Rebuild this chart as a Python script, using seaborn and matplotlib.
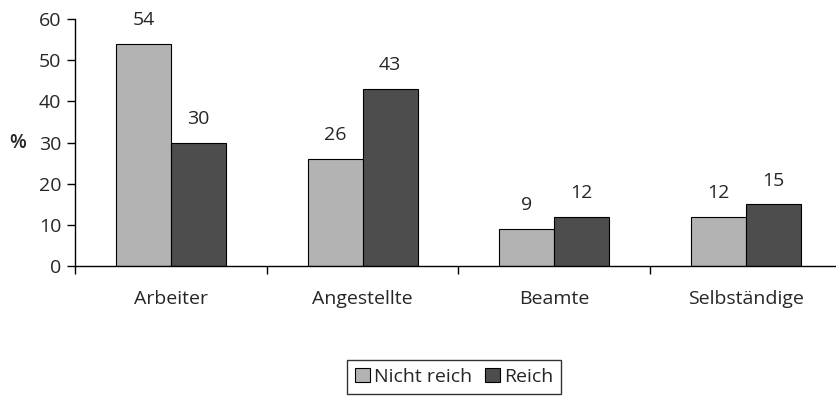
import matplotlib
matplotlib.use("Agg")
import matplotlib.pyplot as plt
import seaborn as sns
import pandas as pd
from matplotlib.ticker import FixedLocator
from matplotlib.patches import Patch

categories = ["Arbeiter", "Angestellte", "Beamte", "Selbständige"]
nicht_reich = [54, 26, 9, 12]
reich = [30, 43, 12, 15]
series_names = ["Nicht reich", "Reich"]
y_ticks = [0, 10, 20, 30, 40, 50, 60]
colors = ["#b3b3b3", "#4d4d4d"]

df = pd.DataFrame({
    "Kategorie": categories * 2,
    "Wert": nicht_reich + reich,
    "Gruppe": [series_names[0]] * len(categories) + [series_names[1]] * len(categories),
})

sns.set_style("white")
plt.rcParams["font.family"] = ["Open Sans", "DejaVu Sans"]
FS = 14

fig = plt.figure(figsize=(8.37, 3.96), dpi=100)
W, H = 837, 396
ax = fig.add_axes([75 / W, (H - 266) / H, (842 - 75) / W, (266 - 19) / H])

sns.barplot(data=df, x="Kategorie", y="Wert", hue="Gruppe", ax=ax,
            palette=colors, width=0.573,
            edgecolor="black", linewidth=0.8, legend=False)

ax.set_xlim(-0.5, 3.5)
ax.set_ylim(0, 60)
ax.set_yticks(y_ticks)
ax.set_xlabel("")
ax.set_ylabel("%", rotation=0, fontsize=FS, fontweight="semibold", va="center")
ax.yaxis.set_label_coords(-57 / 767, 0.5)

for c in ax.containers:
    ax.bar_label(c, labels=[f"{v:g}" for v in c.datavalues], padding=10.5, fontsize=FS)

sns.despine(ax=ax)
for s in ("left", "bottom"):
    ax.spines[s].set_linewidth(1.0)
    ax.spines[s].set_color("black")

ax.tick_params(axis="y", which="major", length=6, width=1, labelsize=FS, pad=4, color="black", left=True)
ax.tick_params(axis="x", which="major", length=0, labelsize=FS, pad=17)
ax.xaxis.set_minor_locator(FixedLocator([-0.5, 0.5, 1.5, 2.5, 3.5]))
ax.tick_params(axis="x", which="minor", length=6, width=1, color="black", bottom=True)

handles = [Patch(facecolor=colors[0], edgecolor="black", linewidth=0.8),
           Patch(facecolor=colors[1], edgecolor="black", linewidth=0.8)]
leg = fig.legend(handles, series_names, loc="center", bbox_to_anchor=(454 / W, (H - 377) / H),
                 ncol=2, frameon=True, fancybox=False, fontsize=FS,
                 handlelength=0.75, handleheight=0.75, handletextpad=0.2,
                 columnspacing=0.7, borderpad=0.4, borderaxespad=0)
leg.get_frame().set_edgecolor("black")
leg.get_frame().set_linewidth(1.0)

fig.savefig("out.png", dpi=100)
